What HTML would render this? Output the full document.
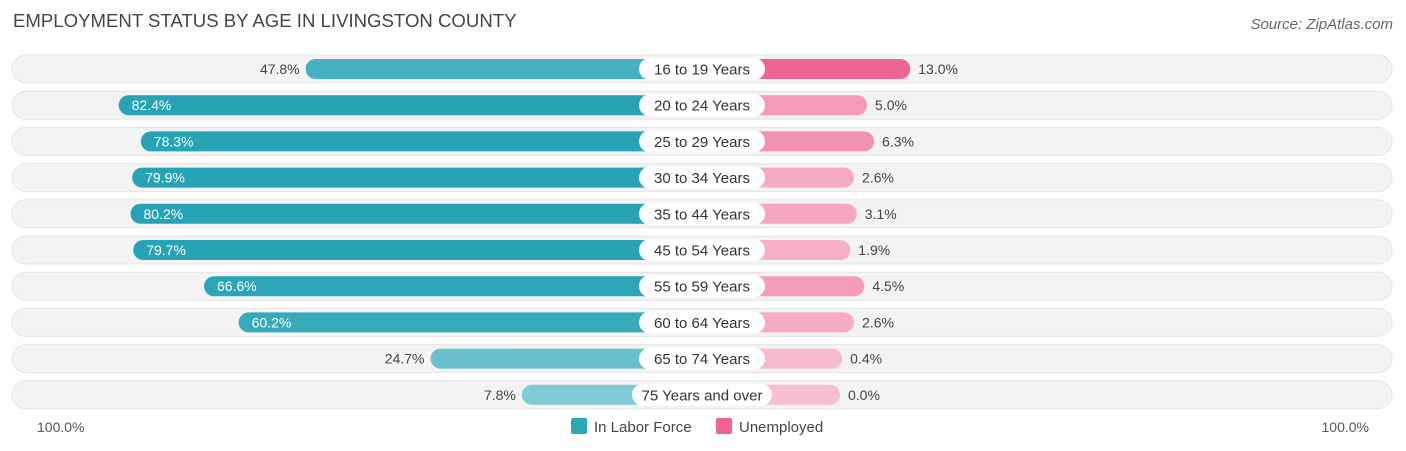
<!DOCTYPE html>
<html><head><meta charset="utf-8"><style>
body{margin:0;width:1406px;height:451px;background:#fff;font-family:"Liberation Sans",sans-serif;overflow:hidden;position:relative}
.t{position:absolute;white-space:nowrap}
</style></head><body>
<div class="t" style="left:13px;top:10px;font-size:18.6px;color:#444">EMPLOYMENT STATUS BY AGE IN LIVINGSTON COUNTY</div>
<div class="t" style="right:13px;top:16px;font-size:15px;color:#666;font-style:italic">Source: ZipAtlas.com</div>
<svg id="chart" width="1406" height="451" style="position:absolute;left:0;top:0"></svg>
<script>
const categories=["16 to 19 Years","20 to 24 Years","25 to 29 Years","30 to 34 Years","35 to 44 Years","45 to 54 Years","55 to 59 Years","60 to 64 Years","65 to 74 Years","75 Years and over"];
const laborForce=[47.8,82.4,78.3,79.9,80.2,79.7,66.6,60.2,24.7,7.8];
const unemployed=[13.0,5.0,6.3,2.6,3.1,1.9,4.5,2.6,0.4,0.0];
const axisLabels=["100.0%","100.0%"];
const svg=document.getElementById('chart');
const NS='http://www.w3.org/2000/svg';
const cx=702, base=138, k=5.405;
function w(v){return base+k*v;}
function rowY(i){return 69+i*36.2;}
function mk(tag,attrs){const e=document.createElementNS(NS,tag);for(const a in attrs)e.setAttribute(a,attrs[a]);svg.appendChild(e);return e;}
function mix(c1,c2,t){return 'rgb('+c1.map((c,j)=>Math.round(c+(c2[j]-c)*t)).join(',')+')';}
categories.forEach((c,i)=>{
  const y=rowY(i);
  const bg=mk('rect',{x:12,y:y-14,width:1380,height:28,rx:14,fill:'#f3f3f3',stroke:'#e4e4e4'});
  
  
  const lv=laborForce[i], uv=unemployed[i];
  const lw=w(lv);
  const lb=mk('rect',{x:cx-lw,y:y-10,width:lw,height:20,rx:10,fill:mix([140,208,216],[38,164,182],Math.min(1,lv/70))});
  
  
  const uw=w(uv);
  const ub=mk('rect',{x:cx,y:y-10,width:uw,height:20,rx:10,fill:mix([247,190,208],[240,100,145],Math.min(1,uv/12))});
  
  
  const inside=lv>55;
  const lt=mk('text',{x:inside?cx-lw+13:cx-lw-6,y:y+5,'font-size':14,fill:inside?'#fff':'#444','text-anchor':inside?'start':'end'});
  lt.textContent=lv.toFixed(1)+'%';
  
  
  const ut=mk('text',{x:cx+uw+8,y:y+5,'font-size':14,fill:'#444'});
  ut.textContent=uv.toFixed(1)+'%';
  
  
  const pw=c.length>14?140:126;
  const pill=mk('rect',{x:cx-pw/2,y:y-11,width:pw,height:22,rx:11,fill:'#fff'});
  
  
  const ct=mk('text',{x:cx,y:y+5.5,'font-size':15,fill:'#333','text-anchor':'middle'});
  ct.textContent=c;
  
  
});
const a1=mk('text',{x:37,y:432,'font-size':14,fill:'#555'});a1.textContent=axisLabels[0];


const a2=mk('text',{x:1369,y:432,'font-size':14,fill:'#555','text-anchor':'end'});a2.textContent=axisLabels[1];


const l1=mk('rect',{x:571,y:418,width:16,height:16,rx:2,fill:'#2aa8b8'});


const l1t=mk('text',{x:594,y:432,'font-size':15,fill:'#444'});l1t.textContent='In Labor Force';


const l2=mk('rect',{x:716,y:418,width:16,height:16,rx:2,fill:'#f06292'});


const l2t=mk('text',{x:739,y:432,'font-size':15,fill:'#444'});l2t.textContent='Unemployed';


</script>
</body></html>
